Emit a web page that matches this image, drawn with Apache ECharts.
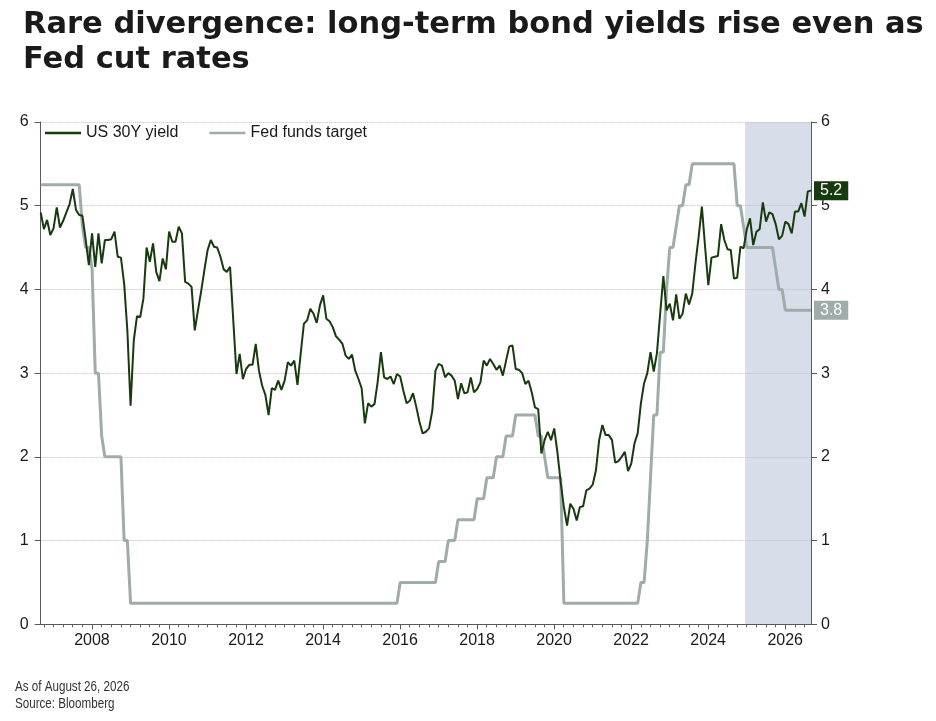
<!DOCTYPE html>
<html>
<head>
<meta charset="utf-8">
<script src="https://cdn.jsdelivr.net/npm/echarts@6/dist/echarts.min.js"></script>
<style>
html,body{margin:0;padding:0;background:#fff;}
#chart{width:936px;height:721px;}
</style>
</head>
<body>
<div id="chart"></div>
<script>
// Monthly observations, Aug 26 2006 .. Aug 26 2026 (241 months)
const startYear = 2006.67;
const endYear = 2026.67;
const shadeStart = 2024.96;

const yearLabels = [2008, 2010, 2012, 2014, 2016, 2018, 2020, 2022, 2024, 2026];
const yTicks = [0, 1, 2, 3, 4, 5, 6];

const yield30y = [
  4.92, 4.72, 4.83, 4.65, 4.73,                                   // 2006 Aug-Dec
  4.98, 4.74, 4.82, 4.92, 5.02, 5.20, 4.95, 4.89, 4.88, 4.60, 4.29, 4.67, // 2007
  4.27, 4.67, 4.31, 4.59, 4.59, 4.60, 4.69, 4.39, 4.38, 4.07, 3.51, 2.61, // 2008
  3.39, 3.68, 3.67, 3.89, 4.50, 4.33, 4.55, 4.21, 4.10, 4.37, 4.24, 4.69, // 2009
  4.57, 4.57, 4.75, 4.67, 4.09, 4.07, 4.03, 3.51, 3.75, 3.98, 4.23, 4.47, // 2010
  4.59, 4.51, 4.50, 4.39, 4.24, 4.21, 4.27, 3.63, 2.99, 3.23, 2.93, 3.05, // 2011
  3.10, 3.10, 3.35, 3.03, 2.85, 2.74, 2.50, 2.82, 2.80, 2.91, 2.80, 2.91, // 2012
  3.13, 3.09, 3.15, 2.86, 3.23, 3.59, 3.63, 3.77, 3.71, 3.60, 3.81, 3.93, // 2013
  3.65, 3.62, 3.55, 3.44, 3.40, 3.35, 3.21, 3.17, 3.22, 3.03, 2.93, 2.82, // 2014
  2.40, 2.64, 2.60, 2.63, 2.90, 3.25, 2.95, 2.93, 2.96, 2.87, 2.99, 2.96, // 2015
  2.79, 2.64, 2.67, 2.76, 2.60, 2.42, 2.28, 2.30, 2.34, 2.55, 3.03, 3.11, // 2016
  3.09, 2.95, 3.00, 2.97, 2.91, 2.69, 2.88, 2.76, 2.77, 2.95, 2.77, 2.81, // 2017
  2.89, 3.15, 3.09, 3.17, 3.11, 3.04, 3.09, 2.97, 3.15, 3.32, 3.33, 3.05, // 2018
  3.04, 3.00, 2.87, 2.91, 2.77, 2.59, 2.57, 2.04, 2.20, 2.30, 2.20, 2.34, // 2019
  2.05, 1.70, 1.40, 1.18, 1.44, 1.38, 1.24, 1.40, 1.41, 1.60, 1.62, 1.67, // 2020
  1.84, 2.20, 2.38, 2.26, 2.26, 2.20, 1.93, 1.95, 2.00, 2.06, 1.83, 1.92, // 2021
  2.16, 2.28, 2.64, 2.88, 3.00, 3.25, 3.02, 3.24, 3.71, 4.16, 3.75, 3.83, // 2022
  3.63, 3.94, 3.65, 3.71, 3.95, 3.82, 3.95, 4.31, 4.63, 4.99, 4.51, 4.05, // 2023
  4.38, 4.39, 4.40, 4.78, 4.59, 4.48, 4.47, 4.13, 4.14, 4.51, 4.49, 4.72, // 2024
  4.85, 4.53, 4.69, 4.72, 5.04, 4.81, 4.92, 4.90, 4.78, 4.60, 4.64, 4.81, // 2025
  4.78, 4.67, 4.93, 4.93, 5.03, 4.87, 5.17, 5.18                  // 2026 Jan-Aug
];

const fedFunds = [
  5.25, 5.25, 5.25, 5.25, 5.25,                                   // 2006 Aug-Dec
  5.25, 5.25, 5.25, 5.25, 5.25, 5.25, 5.25, 5.25, 4.75, 4.50, 4.50, 4.25, // 2007
  3.00, 3.00, 2.25, 2.00, 2.00, 2.00, 2.00, 2.00, 2.00, 1.00, 1.00, 0.25, // 2008
  0.25, 0.25, 0.25, 0.25, 0.25, 0.25, 0.25, 0.25, 0.25, 0.25, 0.25, 0.25, // 2009
  0.25, 0.25, 0.25, 0.25, 0.25, 0.25, 0.25, 0.25, 0.25, 0.25, 0.25, 0.25, // 2010
  0.25, 0.25, 0.25, 0.25, 0.25, 0.25, 0.25, 0.25, 0.25, 0.25, 0.25, 0.25, // 2011
  0.25, 0.25, 0.25, 0.25, 0.25, 0.25, 0.25, 0.25, 0.25, 0.25, 0.25, 0.25, // 2012
  0.25, 0.25, 0.25, 0.25, 0.25, 0.25, 0.25, 0.25, 0.25, 0.25, 0.25, 0.25, // 2013
  0.25, 0.25, 0.25, 0.25, 0.25, 0.25, 0.25, 0.25, 0.25, 0.25, 0.25, 0.25, // 2014
  0.25, 0.25, 0.25, 0.25, 0.25, 0.25, 0.25, 0.25, 0.25, 0.25, 0.25, 0.50, // 2015
  0.50, 0.50, 0.50, 0.50, 0.50, 0.50, 0.50, 0.50, 0.50, 0.50, 0.50, 0.75, // 2016
  0.75, 0.75, 1.00, 1.00, 1.00, 1.25, 1.25, 1.25, 1.25, 1.25, 1.25, 1.50, // 2017
  1.50, 1.50, 1.75, 1.75, 1.75, 2.00, 2.00, 2.00, 2.25, 2.25, 2.25, 2.50, // 2018
  2.50, 2.50, 2.50, 2.50, 2.50, 2.50, 2.25, 2.25, 2.00, 1.75, 1.75, 1.75, // 2019
  1.75, 1.75, 0.25, 0.25, 0.25, 0.25, 0.25, 0.25, 0.25, 0.25, 0.25, 0.25, // 2020
  0.25, 0.25, 0.25, 0.25, 0.25, 0.25, 0.25, 0.25, 0.25, 0.25, 0.25, 0.25, // 2021
  0.25, 0.25, 0.50, 0.50, 1.00, 1.75, 2.50, 2.50, 3.25, 3.25, 4.00, 4.50, // 2022
  4.50, 4.75, 5.00, 5.00, 5.25, 5.25, 5.50, 5.50, 5.50, 5.50, 5.50, 5.50, // 2023
  5.50, 5.50, 5.50, 5.50, 5.50, 5.50, 5.50, 5.50, 5.00, 5.00, 4.75, 4.50, // 2024
  4.50, 4.50, 4.50, 4.50, 4.50, 4.50, 4.50, 4.50, 4.25, 4.00, 4.00, 3.75, // 2025
  3.75, 3.75, 3.75, 3.75, 3.75, 3.75, 3.75, 3.75                  // 2026 Jan-Aug
];

const DARK = '#173a0e';
const GREY = '#9eacaa';
const AXIS = '#5a5a5a';
const LABEL_FONT = 'Liberation Sans';
const FOOT_FONT = '14px "Liberation Sans", Arial, sans-serif';

function monthX(i) { return +(startYear + i / 12).toFixed(4); }
const yieldData = yield30y.map((v, i) => [monthX(i), v]);
const fedData = fedFunds.map((v, i) => [monthX(i), v]);

const quarterTicks = [];
for (let q = Math.ceil(startYear * 4); q <= Math.floor(endYear * 4); q++) quarterTicks.push(q / 4);

const chart = echarts.init(document.getElementById('chart'), null, { renderer: 'canvas' });

const option = {
  animation: false,
  backgroundColor: '#ffffff',
  title: {
    text: 'Rare divergence: long-term bond yields rise even as\nFed cut rates',
    left: 23, top: 8, padding: 0,
    textStyle: { fontFamily: 'DejaVu Sans', fontSize: 30.5, fontWeight: 'bold', color: '#1a1a1a', lineHeight: 35 }
  },
  legend: {
    data: [
      { name: 'US 30Y yield', icon: 'rect' },
      { name: 'Fed funds target', icon: 'rect' }
    ],
    left: 45, top: 124, padding: 0,
    itemWidth: 36, itemHeight: 2.5, itemGap: 31,
    textStyle: { fontFamily: LABEL_FONT, fontSize: 16, color: '#1a1a1a', lineHeight: 18 }
  },
  grid: { left: 40.7, right: 125, top: 122, bottom: 96.7, containLabel: false },
  xAxis: [
    {
      type: 'value', min: startYear, max: endYear, position: 'bottom', z: 1.5,
      axisLine: { show: true, onZero: false, lineStyle: { color: AXIS, width: 1 } },
      axisTick: { show: true, customValues: yearLabels, length: 5, lineStyle: { color: AXIS } },
      axisLabel: {
        show: true, customValues: yearLabels, margin: 8,
        fontFamily: LABEL_FONT, fontSize: 16, color: '#1a1a1a',
        formatter: v => String(Math.round(v))
      },
      splitLine: { show: false }
    },
    {
      type: 'value', min: startYear, max: endYear, position: 'bottom', z: 1.5,
      axisLine: { show: false, onZero: false },
      axisTick: { show: true, customValues: quarterTicks, length: 3, lineStyle: { color: AXIS } },
      axisLabel: { show: false },
      splitLine: { show: false }
    }
  ],
  yAxis: [
    {
      type: 'value', min: 0, max: 6, interval: 1, position: 'left', z: 1.5,
      axisLine: { show: true, lineStyle: { color: AXIS, width: 1 } },
      axisTick: { show: true, length: 6, lineStyle: { color: AXIS } },
      axisLabel: { margin: 12, fontFamily: LABEL_FONT, fontSize: 16, color: '#1a1a1a' },
      splitLine: { show: true, lineStyle: { color: '#bfbfbf', type: 'dotted', width: 1 } }
    },
    {
      type: 'value', min: 0, max: 6, interval: 1, position: 'right', z: 1.5,
      axisLine: { show: true, lineStyle: { color: AXIS, width: 1 } },
      axisTick: { show: true, length: 6, lineStyle: { color: AXIS } },
      axisLabel: { margin: 10, fontFamily: LABEL_FONT, fontSize: 16, color: '#1a1a1a' },
      splitLine: { show: false }
    }
  ],
  series: [
    {
      name: 'Fed funds target', type: 'line', xAxisIndex: 0, yAxisIndex: 1,
      data: fedData, symbol: 'none', showSymbol: false, clip: false, z: 2,
      lineStyle: { color: GREY, width: 3 }, itemStyle: { color: GREY },
      endLabel: {
        show: true, distance: 3, formatter: p => p.value[1].toFixed(1),
        color: '#ffffff', backgroundColor: GREY, padding: [2, 6, 1, 6],
        fontFamily: LABEL_FONT, fontSize: 16
      },
      markArea: {
        silent: true,
        itemStyle: { color: '#d7deea' },
        data: [[{ xAxis: shadeStart }, { xAxis: endYear }]]
      }
    },
    {
      name: 'US 30Y yield', type: 'line', xAxisIndex: 0, yAxisIndex: 0,
      data: yieldData, symbol: 'none', showSymbol: false, clip: false, z: 3,
      lineStyle: { color: DARK, width: 2 }, itemStyle: { color: DARK },
      endLabel: {
        show: true, distance: 3, formatter: p => p.value[1].toFixed(1),
        color: '#ffffff', backgroundColor: DARK, padding: [2, 6, 1, 6],
        fontFamily: LABEL_FONT, fontSize: 16
      }
    }
  ],
  graphic: [
    { type: 'text', x: 15, y: 680, scaleX: 0.83,
      style: { text: 'As of August 26, 2026', font: FOOT_FONT, fill: '#333333' } },
    { type: 'text', x: 15, y: 697, scaleX: 0.83,
      style: { text: 'Source: Bloomberg', font: FOOT_FONT, fill: '#333333' } }
  ]
};

chart.setOption(option);
</script>
</body>
</html>
